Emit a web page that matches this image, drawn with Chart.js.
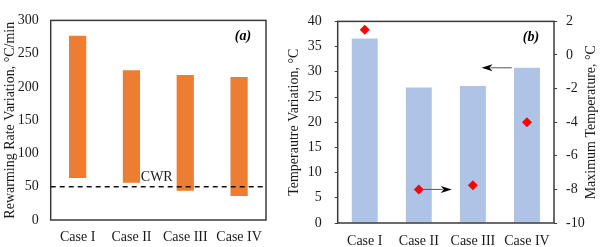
<!DOCTYPE html>
<html>
<head>
<meta charset="utf-8">
<script src="https://cdn.jsdelivr.net/npm/chart.js@4.4.0/dist/chart.umd.min.js"></script>
<style>
  html, body { margin: 0; padding: 0; background: #fff; }
  #wrap { position: relative; width: 600px; height: 247px; }
  #box-a { position: absolute; left: 0; top: 0; width: 285px; height: 247px; }
  #box-b { position: absolute; left: 285px; top: 0; width: 315px; height: 247px; }
</style>
</head>
<body>
<div id="wrap">
  <div id="box-a"><canvas id="chart-a"></canvas></div>
  <div id="box-b"><canvas id="chart-b"></canvas></div>
</div>
<script>
// dados
const cases = ['Case I', 'Case II', 'Case III', 'Case IV'];
const rateLow = [63, 56, 44, 36];
const rateHigh = [277, 225, 218, 215];
const cwrValue = 50;
const tempVariation = [36.6, 26.9, 27.2, 30.8];
const maxTemperature = [1.5, -8.0, -7.75, -4.0];

const rateTicks = { min: 0, max: 300, step: 50 };
const variationTicks = { min: 0, max: 40, step: 5 };
const maxTempTicks = { min: -10, max: 2, step: 2 };

const serif = "'Liberation Serif', 'Times New Roman', serif";
Chart.defaults.font.family = serif;
Chart.defaults.font.size = 14;
Chart.defaults.color = '#1a1a1a';

// moldura em volta da area do grafico
const frame = {
    id: 'frame',
    afterDatasetsDraw(chart) {
        const a = chart.chartArea;
        const ctx = chart.ctx;
        ctx.save();
        ctx.strokeStyle = '#3a3a3a';
        ctx.lineWidth = 1.5;
        ctx.strokeRect(a.left, a.top, a.right - a.left, a.bottom - a.top);
        ctx.restore();
    }
};

function panelTag(chart, text) {
    const ctx = chart.ctx;
    const a = chart.chartArea;
    ctx.save();
    ctx.font = 'italic bold 14px ' + serif;
    ctx.fillStyle = '#000';
    ctx.textAlign = 'center';
    ctx.textBaseline = 'middle';
    ctx.fillText(text, a.right - 23, a.top + 16);
    ctx.restore();
}

function arrow(ctx, x1, y1, x2, y2) {
    const dir = Math.sign(x2 - x1);
    ctx.save();
    ctx.strokeStyle = '#555';
    ctx.fillStyle = '#000';
    ctx.lineWidth = 1;
    ctx.beginPath();
    ctx.moveTo(x1, y1);
    ctx.lineTo(x2 - dir * 9, y2);
    ctx.stroke();
    ctx.beginPath();
    ctx.moveTo(x2, y2);
    ctx.lineTo(x2 - dir * 11, y2 - 3.5);
    ctx.lineTo(x2 - dir * 8, y2);
    ctx.lineTo(x2 - dir * 11, y2 + 3.5);
    ctx.closePath();
    ctx.fill();
    ctx.restore();
}

// (a) linha CWR tracejada
const cwrLine = {
    id: 'cwrLine',
    afterDatasetsDraw(chart) {
        const ctx = chart.ctx;
        const a = chart.chartArea;
        const y = chart.scales.y.getPixelForValue(cwrValue);
        ctx.save();
        ctx.strokeStyle = '#111';
        ctx.lineWidth = 1.3;
        ctx.setLineDash([5, 4]);
        ctx.beginPath();
        ctx.moveTo(a.left, y);
        ctx.lineTo(a.right, y);
        ctx.stroke();
        ctx.setLineDash([]);
        ctx.fillStyle = '#1a1a1a';
        ctx.font = '14px ' + serif;
        ctx.textAlign = 'center';
        ctx.textBaseline = 'alphabetic';
        ctx.fillText('CWR', chart.scales.x.getPixelForValue(1.47), y - 6);
        ctx.restore();
        panelTag(chart, '(a)');
    }
};

const chartA = new Chart(document.getElementById('chart-a'), {
    type: 'bar',
    data: {
        labels: cases,
        datasets: [{
            label: 'Rewarming rate',
            data: cases.map((c, i) => [rateLow[i], rateHigh[i]]),
            backgroundColor: '#ED7D31',
            borderWidth: 0,
            barPercentage: 0.32,
            categoryPercentage: 1
        }]
    },
    options: {
        responsive: true,
        maintainAspectRatio: false,
        animation: false,
        layout: { padding: { top: 6, right: 19, left: 0, bottom: 0 } },
        plugins: { legend: { display: false }, tooltip: { enabled: false } },
        scales: {
            x: {
                grid: { display: false, drawTicks: false },
                border: { display: false },
                ticks: { padding: 9 },
                afterFit: s => { s.height = 27; }
            },
            y: {
                min: rateTicks.min,
                max: rateTicks.max,
                ticks: { stepSize: rateTicks.step, padding: 12 },
                grid: { display: false, drawTicks: false },
                border: { display: false },
                title: { display: true, text: 'Rewarming Rate Variation, °C/min', padding: { top: 2, bottom: 0 } },
                afterFit: s => { s.width = 50.7; }
            }
        }
    },
    plugins: [frame, cwrLine]
});

// (b) setas e titulo do eixo direito
const extrasB = {
    id: 'extrasB',
    afterDatasetsDraw(chart) {
        const ctx = chart.ctx;
        const x = chart.scales.x, y = chart.scales.y, y1 = chart.scales.y1;
        arrow(ctx, x.getPixelForValue(1), y1.getPixelForValue(maxTemperature[1]),
            x.getPixelForValue(1.61), y1.getPixelForValue(maxTemperature[1]));
        arrow(ctx, x.getPixelForValue(2.72), y.getPixelForValue(tempVariation[3]),
            x.getPixelForValue(2.16), y.getPixelForValue(tempVariation[3]));
        panelTag(chart, '(b)');
        const a = chart.chartArea;
        ctx.save();
        ctx.translate(chart.width - 9, (a.top + a.bottom) / 2);
        ctx.rotate(-Math.PI / 2);
        ctx.font = '14px ' + serif;
        ctx.fillStyle = '#1a1a1a';
        ctx.textAlign = 'center';
        ctx.textBaseline = 'middle';
        ctx.fillText('Maximum Temperature, °C', 0, 0);
        ctx.restore();
    }
};

const chartB = new Chart(document.getElementById('chart-b'), {
    type: 'bar',
    data: {
        labels: cases,
        datasets: [{
            type: 'line',
            label: 'Maximum Temperature',
            data: maxTemperature,
            yAxisID: 'y1',
            showLine: false,
            pointStyle: 'rectRot',
            pointRadius: 5,
            pointBackgroundColor: '#FF0000',
            pointBorderColor: '#FF0000',
            pointBorderWidth: 0
        },
        {
            label: 'Temperature Variation',
            data: tempVariation,
            yAxisID: 'y',
            backgroundColor: '#AFC3E6',
            borderWidth: 0,
            barPercentage: 0.48,
            categoryPercentage: 1
        }]
    },
    options: {
        responsive: true,
        maintainAspectRatio: false,
        animation: false,
        layout: { padding: { top: 6.5, right: 0, left: 0, bottom: 0 } },
        plugins: { legend: { display: false }, tooltip: { enabled: false } },
        scales: {
            x: {
                grid: { display: false, drawTicks: false },
                border: { display: false },
                ticks: { padding: 10 },
                afterFit: s => { s.height = 24; }
            },
            y: {
                position: 'left',
                min: variationTicks.min,
                max: variationTicks.max,
                ticks: { stepSize: variationTicks.step, padding: 13 },
                grid: { drawOnChartArea: false, tickLength: 3, color: '#3a3a3a' },
                border: { display: false },
                title: { display: true, text: 'Temperautre Variation, °C', padding: { top: 1, bottom: 0 } },
                afterFit: s => { s.width = 52.7; }
            },
            y1: {
                position: 'right',
                min: maxTempTicks.min,
                max: maxTempTicks.max,
                ticks: { stepSize: maxTempTicks.step, padding: 9 },
                grid: { drawOnChartArea: false, tickLength: 3, color: '#3a3a3a' },
                border: { display: false },
                afterFit: s => { s.width = 46; }
            }
        }
    },
    plugins: [frame, extrasB]
});
</script>
</body>
</html>
